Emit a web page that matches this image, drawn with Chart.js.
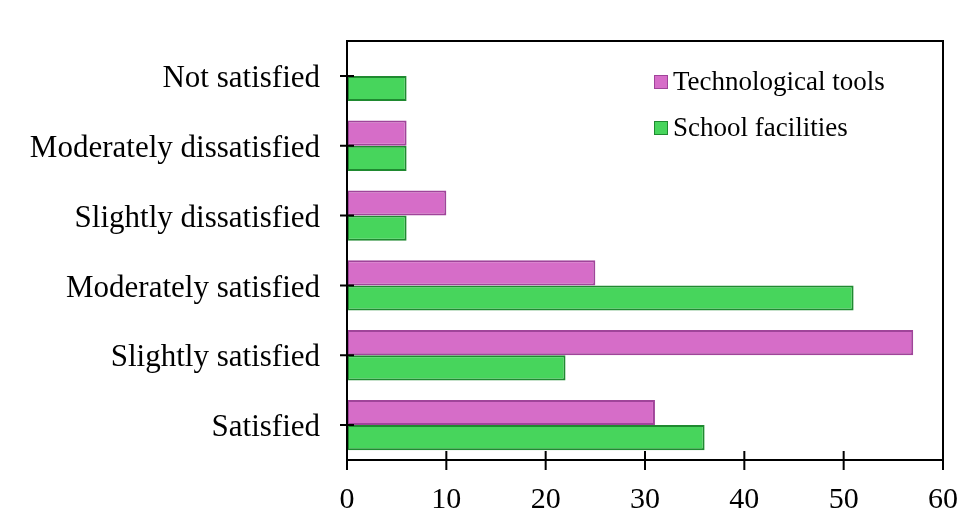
<!DOCTYPE html>
<html>
<head>
<meta charset="utf-8">
<script src="https://cdn.jsdelivr.net/npm/chart.js@4.4.1/dist/chart.umd.min.js"></script>
<style>
  html, body { margin: 0; padding: 0; background: #fff; }
  #wrap { width: 963px; height: 515px; }
</style>
</head>
<body>
<div id="wrap"><canvas id="c" width="963" height="515"></canvas></div>
<script>
// Satisfaction levels, top to bottom
const categories = [
  'Not satisfied',
  'Moderately dissatisfied',
  'Slightly dissatisfied',
  'Moderately satisfied',
  'Slightly satisfied',
  'Satisfied'
];
const technologicalTools = [0, 6, 10, 25, 57, 31];
const schoolFacilities = [6, 6, 6, 51, 22, 36];
const xTicks = [0, 10, 20, 30, 40, 50, 60];

const SERIF = '"Liberation Serif", "Times New Roman", serif';

// Frame around the plot plus tick marks that straddle both axes
const framePlugin = {
  id: 'frame',
  afterDatasetsDraw(chart) {
    const { ctx, chartArea: a, scales } = chart;
    ctx.save();
    ctx.strokeStyle = '#000';
    ctx.lineWidth = 2;
    ctx.strokeRect(a.left, a.top, a.right - a.left, a.bottom - a.top);
    ctx.beginPath();
    xTicks.forEach(v => {
      const x = scales.x.getPixelForValue(v);
      ctx.moveTo(x, a.bottom - 9);
      ctx.lineTo(x, a.bottom + 10);
    });
    categories.forEach((_, i) => {
      const y = scales.y.getPixelForValue(i);
      ctx.moveTo(a.left - 7, y);
      ctx.lineTo(a.left + 7, y);
    });
    ctx.stroke();
    ctx.restore();
  }
};

// Legend drawn inside the plot, upper right
const insideLegend = {
  id: 'insideLegend',
  afterDraw(chart) {
    const { ctx } = chart;
    const x0 = 654, y0 = 82, gap = 46, box = 14;
    ctx.save();
    ctx.font = '27px ' + SERIF;
    ctx.textBaseline = 'middle';
    chart.data.datasets.forEach((ds, i) => {
      const y = y0 + i * gap;
      ctx.fillStyle = ds.backgroundColor;
      ctx.fillRect(x0, y - box / 2, box, box);
      ctx.strokeStyle = ds.borderColor;
      ctx.lineWidth = 1;
      ctx.strokeRect(x0 + 0.5, y - box / 2 + 0.5, box - 1, box - 1);
      ctx.fillStyle = '#000';
      ctx.fillText(ds.label, x0 + box + 5, y + 1);
    });
    ctx.restore();
  }
};

function noEdgePadding(s) {
  s.paddingLeft = 0;
  s.paddingRight = 0;
  s.paddingTop = 0;
  s.paddingBottom = 0;
}

new Chart(document.getElementById('c'), {
  type: 'bar',
  data: {
    labels: categories,
    datasets: [
      {
        label: 'Technological tools',
        data: technologicalTools,
        backgroundColor: '#D66DC8',
        borderColor: '#A0449A',
        borderWidth: 2,
        borderSkipped: false
      },
      {
        label: 'School facilities',
        data: schoolFacilities,
        backgroundColor: '#47D55C',
        borderColor: '#1F8A30',
        borderWidth: 2,
        borderSkipped: false
      }
    ]
  },
  options: {
    indexAxis: 'y',
    responsive: false,
    animation: false,
    devicePixelRatio: 1,
    layout: { padding: { top: 41, right: 20, left: 0, bottom: 0 } },
    datasets: { bar: { categoryPercentage: 0.72, barPercentage: 1.0 } },
    plugins: {
      legend: { display: false },
      tooltip: { enabled: false }
    },
    scales: {
      x: {
        min: 0,
        max: 60,
        ticks: {
          stepSize: 10,
          color: '#000',
          font: { family: SERIF, size: 30 },
          padding: 22
        },
        grid: { display: false, drawTicks: false },
        border: { display: false },
        afterFit(s) { s.height = 55; noEdgePadding(s); }
      },
      y: {
        ticks: {
          color: '#000',
          font: { family: SERIF, size: 31 },
          padding: 27,
          labelOffset: 3
        },
        grid: { display: false, drawTicks: false },
        border: { display: false },
        afterFit(s) { s.width = 347; noEdgePadding(s); }
      }
    }
  },
  plugins: [framePlugin, insideLegend]
});
</script>
</body>
</html>
